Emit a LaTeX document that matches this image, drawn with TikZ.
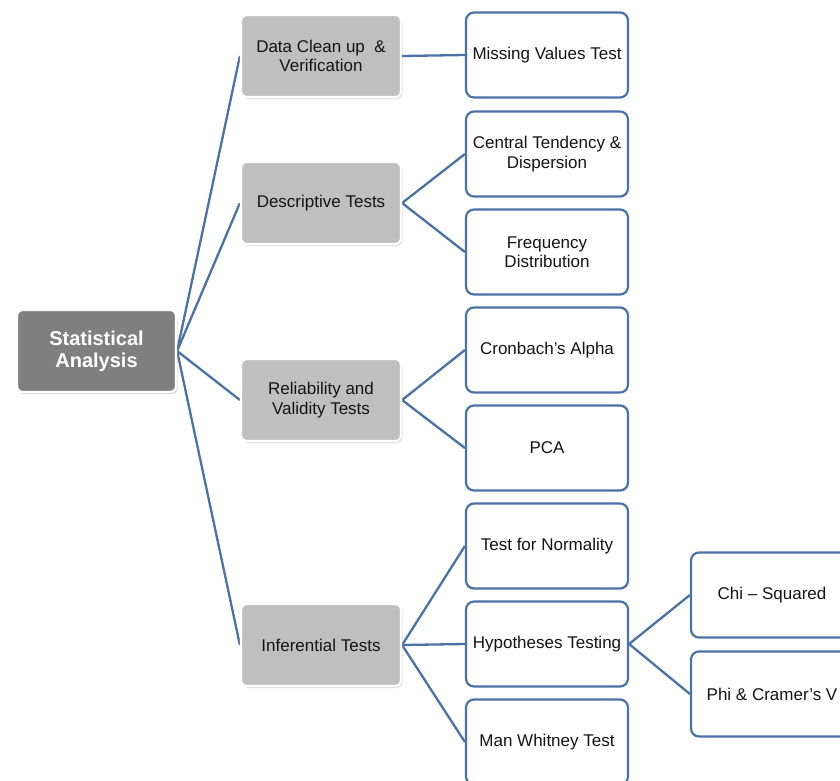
\documentclass[tikz,border=0pt]{standalone}
\usepackage{fontspec}
\setmainfont{Liberation Sans}
\usetikzlibrary{shadows,backgrounds}
\definecolor{linkblue}{RGB}{74,114,166}
\definecolor{rootgray}{RGB}{127,127,127}
\definecolor{catgray}{RGB}{191,191,191}
\definecolor{txt}{RGB}{20,20,20}
\tikzset{
  base/.style={rectangle, align=center, text=txt,
    font=\fontsize{17}{19.5}\selectfont, inner sep=2pt},
  rootbox/.style={base, fill=rootgray, draw=white, line width=2.2pt,
    rounded corners=6pt, minimum width=159pt, minimum height=82pt,
    text=white, font=\fontsize{20}{22}\selectfont\bfseries,
    drop shadow={opacity=0.3, shadow xshift=1.5pt, shadow yshift=-2pt}},
  catbox/.style={base, fill=catgray, draw=white, line width=2.2pt,
    rounded corners=6pt, minimum width=160pt, minimum height=82pt,
    drop shadow={opacity=0.25, shadow xshift=1.5pt, shadow yshift=-2pt}},
  testbox/.style={base, fill=white, draw=linkblue, line width=2.2pt,
    rounded corners=8pt, minimum width=162pt, minimum height=85pt},
  link/.style={draw=linkblue, line width=2.3pt},
}
\begin{document}
\begin{tikzpicture}[x=1pt, y=-1pt]
\useasboundingbox (0,0) rectangle (840,780);
\clip (0,0) rectangle (840,780);

% root
\node[rootbox] (root) at (96.5,351) {Statistical\\Analysis};

% first level
\node[catbox] (clean) at (321,56)  {Data Clean up~~\&\\Verification};
\node[catbox] (desc)  at (321,203) {Descriptive Tests};
\node[catbox] (rel)   at (321,400) {Reliability and\\Validity Tests};
\node[catbox] (inf)   at (321,645) {Inferential Tests};

% second level
\node[testbox] (miss) at (547,55)  {Missing Values Test};
\node[testbox] (cent) at (547,154) {Central Tendency \&\\Dispersion};
\node[testbox] (freq) at (547,252) {Frequency\\Distribution};
\node[testbox] (cron) at (547,350) {Cronbach’s Alpha};
\node[testbox] (pca)  at (547,448) {PCA};
\node[testbox] (norm) at (547,546) {Test for Normality};
\node[testbox] (hyp)  at (547,644) {Hypotheses Testing};
\node[testbox] (mann) at (547,742) {Man Whitney Test};

% third level
\node[testbox] (chi) at (772,595) {Chi – Squared};
\node[testbox] (phi) at (772,694) {Phi \& Cramer’s V};

\begin{scope}[on background layer]
  \foreach \c in {clean,desc,rel,inf}
    \draw[link] (root.east) -- (\c.west);
  \draw[link] (clean.east) -- (miss.west);
  \foreach \c in {cent,freq}
    \draw[link] (desc.east) -- (\c.west);
  \foreach \c in {cron,pca}
    \draw[link] (rel.east) -- (\c.west);
  \foreach \c in {norm,hyp,mann}
    \draw[link] (inf.east) -- (\c.west);
  \foreach \c in {chi,phi}
    \draw[link] (hyp.east) -- (\c.west);
\end{scope}
\end{tikzpicture}
\end{document}
